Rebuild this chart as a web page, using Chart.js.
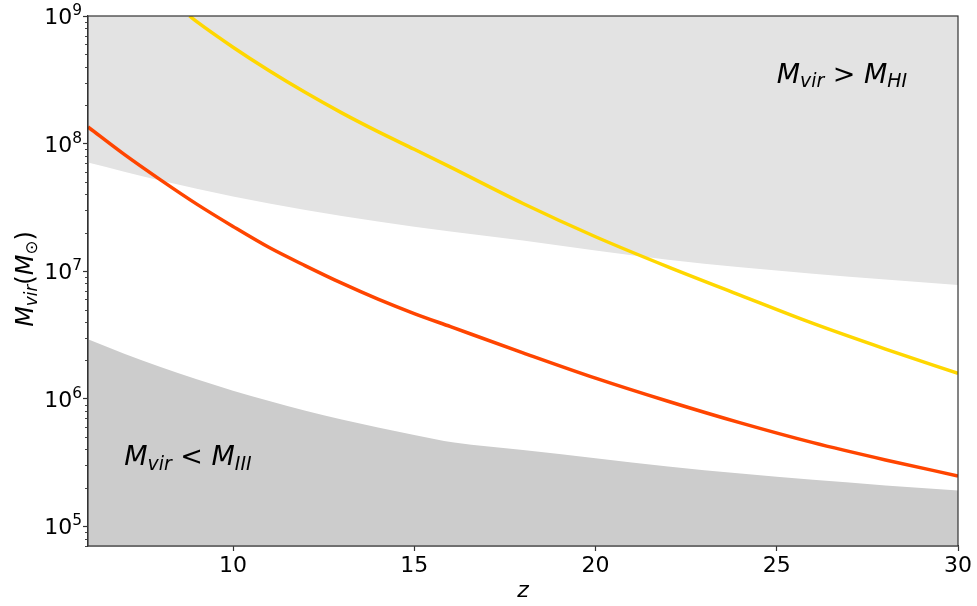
<!DOCTYPE html>
<html>
<head>
<meta charset="utf-8">
<script src="https://cdn.jsdelivr.net/npm/chart.js@4"></script>
<style>
  html, body { margin: 0; padding: 0; background: #fff; }
  canvas { display: block; }
</style>
</head>
<body>
<canvas id="myChart" width="977" height="606"></canvas>
<script>
// red curve
var zRed = [6, 7, 8, 9, 10, 11, 12, 13, 14, 15, 16, 18, 20, 22, 24, 26, 28, 30];
var mRed = [1.35e8, 8.22e7, 5.19e7, 3.35e7, 2.24e7, 1.53e7, 1.10e7, 8.04e6, 6.03e6, 4.65e6, 3.67e6,
            2.29e6, 1.45e6, 9.55e5, 6.46e5, 4.52e5, 3.31e5, 2.48e5];
// yellow curve
var zGold = [8.8, 9, 10, 11, 12, 13, 14, 15, 16, 18, 20, 22, 24, 26, 28, 30];
var mGold = [1e9, 9.02e8, 5.69e8, 3.72e8, 2.51e8, 1.74e8, 1.24e8, 9.02e7, 6.53e7, 3.39e7, 1.86e7,
             1.08e7, 6.46e6, 3.89e6, 2.45e6, 1.58e6];
// upper shaded limit (M_HI)
var zHI = [6, 8, 10, 12, 14, 16, 18, 20, 22, 24, 26, 28, 30];
var mHI = [7.1e7, 5.13e7, 3.85e7, 3.02e7, 2.45e7, 2.04e7, 1.74e7, 1.45e7, 1.23e7, 1.07e7, 9.55e6, 8.6e6, 7.78e6];
// lower shaded limit (M_III)
var zIII = [6, 7, 8, 9, 10, 11, 12, 13, 14, 15, 16.1, 18, 20, 22, 24, 26, 28, 30];
var mIII = [2.92e6, 2.25e6, 1.77e6, 1.42e6, 1.156e6, 9.57e5, 8.05e5, 6.87e5, 5.94e5, 5.2e5, 4.53e5,
            3.96e5, 3.41e5, 2.94e5, 2.59e5, 2.31e5, 2.09e5, 1.91e5];

var xTicks = [10, 15, 20, 25, 30];
var yTicks = [1e5, 1e6, 1e7, 1e8, 1e9];

// text labels: [z, M] at the start of the baseline
var annHI = [25, 3.0e8];
var annIII = [7, 3.0e5];

function pts(xs, ys) { return xs.map(function(x, i) { return {x: x, y: ys[i]}; }); }

var FONT = "'DejaVu Sans', sans-serif";

// mathtext-like run: parts = [[text, style]], style: i italic, r roman, s subscript italic, sr subscript roman
function drawMath(ctx, x0, y0, parts, size, measureOnly) {
    var x = x0;
    parts.forEach(function(p) {
        var sub = p[1] === 's' || p[1] === 'sr';
        var ital = p[1] === 'i' || p[1] === 's';
        var fs = sub ? size * 0.7 : size;
        ctx.font = (ital ? 'italic ' : '') + fs + 'px ' + FONT;
        if (!measureOnly) ctx.fillText(p[0], x, y0 + (sub ? size * 0.17 : 0));
        x += ctx.measureText(p[0]).width;
    });
    return x - x0;
}

var decor = {
    id: 'decor',
    afterDraw: function(chart) {
        var ctx = chart.ctx, a = chart.chartArea, xs = chart.scales.x, ys = chart.scales.y;
        ctx.save();
        // frame
        ctx.strokeStyle = '#333';
        ctx.lineWidth = 1.2;
        ctx.strokeRect(a.left, a.top, a.right - a.left, a.bottom - a.top);
        // minor log ticks
        ctx.lineWidth = 0.9;
        ctx.beginPath();
        for (var e = 4; e < 9; e++) {
            for (var k = 2; k < 10; k++) {
                var v = k * Math.pow(10, e);
                if (v < ys.min || v > ys.max) continue;
                var py = Math.round(ys.getPixelForValue(v)) + 0.5;
                ctx.moveTo(a.left - 3, py);
                ctx.lineTo(a.left, py);
            }
        }
        ctx.stroke();

        ctx.fillStyle = '#000';
        ctx.textBaseline = 'alphabetic';
        ctx.textAlign = 'left';

        // y tick labels as 10 with a raised exponent
        ys.ticks.forEach(function(t) {
            var py = ys.getPixelForValue(t.value);
            var ex = String(Math.round(Math.log10(t.value)));
            ctx.font = '15.4px ' + FONT;
            var w2 = ctx.measureText(ex).width;
            ctx.font = '22px ' + FONT;
            var w1 = ctx.measureText('10').width;
            var xe = a.left - 6;
            ctx.fillText('10', xe - w2 - w1, py + 8);
            ctx.font = '15.4px ' + FONT;
            ctx.fillText(ex, xe - w2, py - 1);
        });

        drawMath(ctx, xs.getPixelForValue(annHI[0]), ys.getPixelForValue(annHI[1]),
            [['M', 'i'], ['vir', 's'], [' > ', 'r'], ['M', 'i'], ['HI', 's']], 27);
        drawMath(ctx, xs.getPixelForValue(annIII[0]), ys.getPixelForValue(annIII[1]),
            [['M', 'i'], ['vir', 's'], [' < ', 'r'], ['M', 'i'], ['III', 's']], 27);

        // x axis title
        ctx.font = 'italic 22px ' + FONT;
        ctx.textAlign = 'center';
        ctx.fillText('z', (a.left + a.right) / 2, 597);

        // y axis title, rotated
        ctx.textAlign = 'left';
        var yParts = [['M', 'i'], ['vir', 's'], ['(', 'r'], ['M', 'i'], ['⊙', 'sr'], [')', 'r']];
        var w = drawMath(ctx, 0, 0, yParts, 24, true);
        ctx.translate(33, 279);
        ctx.rotate(-Math.PI / 2);
        drawMath(ctx, -w / 2, 0, yParts, 24);
        ctx.restore();
    }
};

var graphData = {
    datasets: [
        {
            label: 'red',
            data: pts(zRed, mRed),
            borderColor: '#ff4500',
            borderWidth: 3.5,
            fill: false
        },
        {
            label: 'gold',
            data: pts(zGold, mGold),
            borderColor: '#ffd700',
            borderWidth: 3.5,
            fill: false
        },
        {
            label: 'M_HI',
            data: pts(zHI, mHI),
            borderColor: 'rgba(0,0,0,0)',
            borderWidth: 0,
            backgroundColor: '#e3e3e3',
            fill: 'end'
        },
        {
            label: 'M_III',
            data: pts(zIII, mIII),
            borderColor: 'rgba(0,0,0,0)',
            borderWidth: 0,
            backgroundColor: '#cccccc',
            fill: 'start'
        }
    ]
};

var ctx = document.getElementById('myChart').getContext('2d');
window.myLine = new Chart(ctx, {
    type: 'line',
    data: graphData,
    plugins: [decor],
    options: {
        responsive: false,
        animation: false,
        devicePixelRatio: 1,
        layout: { padding: { left: 0, top: 16, right: 19, bottom: 0 } },
        elements: {
            point: { radius: 0 },
            line: { cubicInterpolationMode: 'monotone' }
        },
        plugins: {
            legend: { display: false },
            tooltip: { enabled: false },
            title: { display: false }
        },
        scales: {
            x: {
                type: 'linear',
                min: 6,
                max: 30,
                afterBuildTicks: function(s) { s.ticks = xTicks.map(function(v) { return {value: v}; }); },
                afterFit: function(s) { s.height = 60; },
                ticks: { color: '#000', font: { family: FONT, size: 22 }, padding: 2, maxRotation: 0 },
                grid: { drawOnChartArea: false, tickLength: 5, tickColor: '#333', tickWidth: 1.2 },
                border: { color: '#333', width: 1.2 }
            },
            y: {
                type: 'logarithmic',
                min: 7e4,
                max: 1e9,
                afterBuildTicks: function(s) { s.ticks = yTicks.map(function(v) { return {value: v}; }); },
                afterFit: function(s) { s.width = 88; },
                ticks: { display: false },
                grid: { drawOnChartArea: false, tickLength: 5, tickColor: '#333', tickWidth: 1.2 },
                border: { color: '#333', width: 1.2 }
            }
        }
    }
});
</script>
</body>
</html>
